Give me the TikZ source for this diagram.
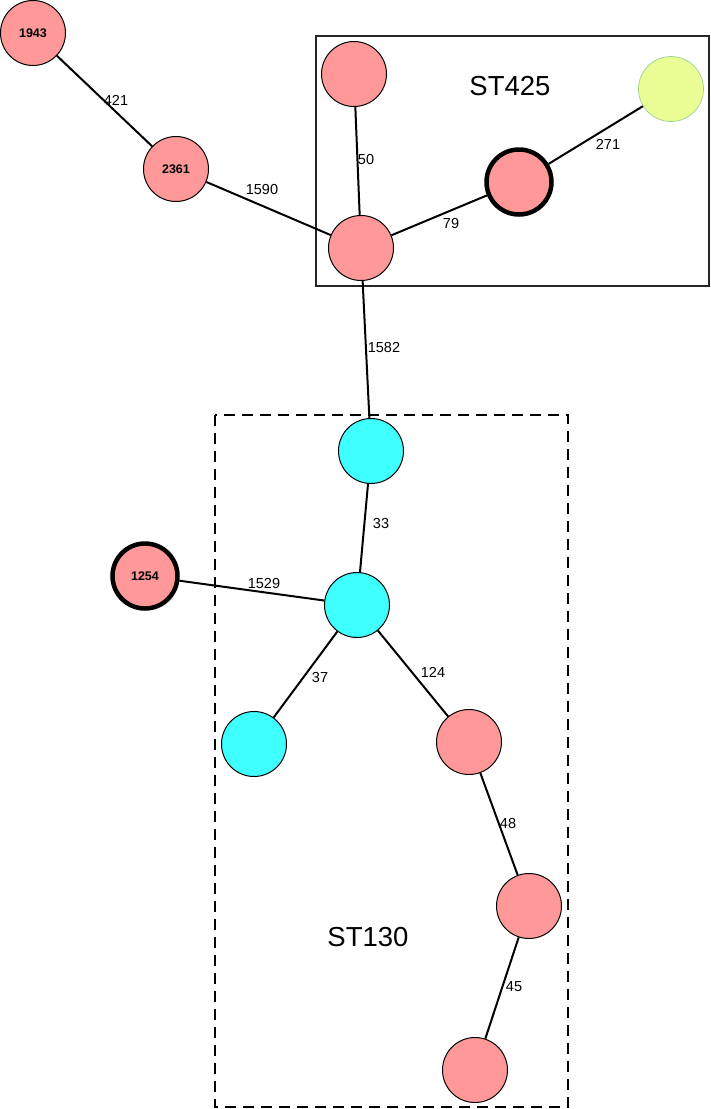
\documentclass[tikz,border=0pt]{standalone}
\usepackage{fontspec}
\setmainfont{Liberation Sans}
\definecolor{pinkfill}{RGB}{255,153,153}
\definecolor{cyanfill}{RGB}{64,255,255}
\definecolor{yelfill}{RGB}{233,255,150}
\definecolor{yelborder}{RGB}{160,205,140}
\begin{document}
\begin{tikzpicture}[x=1pt,y=-1pt,
  st/.style={circle,draw=black,line width=1pt,minimum size=65pt,inner sep=0pt,
    font=\fontsize{12.5}{14}\selectfont\bfseries},
  pinknode/.style={st,fill=pinkfill},
  cyannode/.style={st,fill=cyanfill},
  yelnode/.style={st,fill=yelfill,draw=yelborder,line width=0.7pt},
  boldnode/.style={pinknode,line width=4.5pt,minimum size=65pt},
  edge/.style={draw=black,line width=2pt},
  elabel/.style={font=\fontsize{14.5}{16}\selectfont,inner sep=0pt},
  glabel/.style={font=\fontsize{27.5}{30}\selectfont,inner sep=0pt},
  solidbox/.style={draw=black!85,line width=1.2pt},
  dashbox/.style={draw=black,line width=2.5pt,dash pattern=on 11pt off 7pt}
]
\useasboundingbox (0,0) rectangle (710,1109);
% group boxes
\draw[solidbox] (316,36) rectangle (709,286);
\draw[dashbox] (215,415) rectangle (568,1107);
% nodes
\node[pinknode] (n1943) at (33,33) {1943};
\node[pinknode] (n2361) at (176,169) {2361};
\node[pinknode] (a) at (354,74) {};
\node[pinknode] (c) at (361,248) {};
\node[boldnode] (b) at (519,182) {};
\node[yelnode] (y) at (671,89) {};
\node[cyannode] (t) at (371,451) {};
\node[cyannode] (m) at (357,605) {};
\node[boldnode,font=\fontsize{12.5}{14}\selectfont\bfseries] (n1254) at (145,576) {1254};
\node[cyannode] (l) at (254,744) {};
\node[pinknode] (p1) at (469,742) {};
\node[pinknode] (p2) at (529,906) {};
\node[pinknode] (p3) at (475,1070) {};
% edges
\draw[edge] (n1943) -- (n2361);
\draw[edge] (n2361) -- (c);
\draw[edge] (a) -- (c);
\draw[edge] (c) -- (b);
\draw[edge] (b) -- (y);
\draw[edge] (c) -- (t);
\draw[edge] (t) -- (m);
\draw[edge] (n1254) -- (m);
\draw[edge] (m) -- (l);
\draw[edge] (m) -- (p1);
\draw[edge] (p1) -- (p2);
\draw[edge] (p2) -- (p3);
% edge labels
\node[elabel] (e421) at (116,100) {421};
\node[elabel] (e1590) at (262,190) {1590};
\node[elabel] (e50) at (366,160) {50};
\node[elabel] (e79) at (451,224) {79};
\node[elabel] (e271) at (608,144) {271};
\node[elabel] (e1582) at (384,348) {1582};
\node[elabel] (e33) at (381,524) {33};
\node[elabel] (e1529) at (264,583) {1529};
\node[elabel] (e37) at (320,677) {37};
\node[elabel] (e124) at (433,672) {124};
\node[elabel] (e48) at (508,823) {48};
\node[elabel] (e45) at (514,987) {45};
% group labels
\node[glabel] (gST425) at (510,86) {ST425};
\node[glabel] (gST130) at (368,937) {ST130};
\end{tikzpicture}
\end{document}
